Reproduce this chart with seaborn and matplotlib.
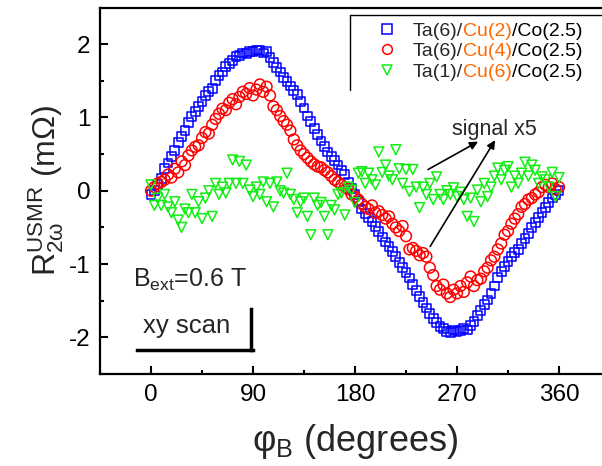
import numpy as np
import pandas as pd
import matplotlib
matplotlib.use("Agg")
import matplotlib.pyplot as plt
import seaborn as sns
from matplotlib.lines import Line2D
from matplotlib.ticker import MultipleLocator

# ---------------- data ----------------
phi = np.arange(0, 361, 3)

r_cu2 = [-0.05, 0.00, 0.08, 0.17, 0.30, 0.38, 0.47, 0.55, 0.66, 0.74,
         0.82, 0.93, 1.01, 1.08, 1.15, 1.22, 1.30, 1.35, 1.40, 1.50,
         1.57, 1.62, 1.70, 1.74, 1.78, 1.83, 1.85, 1.88, 1.87, 1.90,
         1.90, 1.92, 1.91, 1.88, 1.90, 1.82, 1.75, 1.68, 1.62, 1.55,
         1.49, 1.43, 1.37, 1.31, 1.22, 1.13, 1.02, 0.94, 0.85, 0.77,
         0.68, 0.60, 0.53, 0.47, 0.41, 0.35, 0.28, 0.22, 0.12, 0.03,
         -0.05, -0.15, -0.25, -0.31, -0.36, -0.42, -0.49, -0.56, -0.63, -0.70,
         -0.76, -0.83, -0.90, -0.98, -1.05, -1.12, -1.19, -1.28, -1.36, -1.44,
         -1.52, -1.60, -1.67, -1.74, -1.80, -1.85, -1.88, -1.92, -1.93, -1.90,
         -1.92, -1.91, -1.88, -1.90, -1.84, -1.78, -1.70, -1.63, -1.55, -1.49,
         -1.40, -1.30, -1.18, -1.10, -1.03, -0.96, -0.90, -0.84, -0.80, -0.72,
         -0.65, -0.58, -0.50, -0.43, -0.37, -0.30, -0.23, -0.16, -0.10, -0.05,
         0.00]

r_cu4 = [0.00, 0.05, 0.10, 0.12, 0.15, 0.22, 0.18, 0.30, 0.25, 0.40,
         0.35, 0.48, 0.55, 0.60, 0.62, 0.72, 0.80, 0.78, 0.90, 0.98,
         1.05, 1.12, 1.10, 1.20, 1.25, 1.18, 1.28, 1.35, 1.32, 1.40,
         1.30, 1.38, 1.45, 1.35, 1.42, 1.30, 1.15, 1.10, 1.02, 0.95,
         0.90, 0.82, 0.70, 0.62, 0.55, 0.50, 0.45, 0.40, 0.36, 0.33,
         0.32, 0.28, 0.25, 0.20, 0.15, 0.12, 0.08, 0.05, 0.02, -0.05,
         -0.08, -0.12, -0.18, -0.22, -0.25, -0.20, -0.30, -0.28, -0.33, -0.38,
         -0.35, -0.45, -0.50, -0.55, -0.48, -0.62, -0.80, -0.78, -0.82, -0.88,
         -0.85, -0.90, -1.05, -1.15, -1.30, -1.35, -1.28, -1.40, -1.45, -1.35,
         -1.40, -1.30, -1.38, -1.25, -1.17, -1.30, -1.22, -1.20, -1.10, -1.05,
         -0.95, -0.90, -0.80, -0.72, -0.60, -0.55, -0.45, -0.38, -0.32, -0.22,
         -0.18, -0.12, -0.10, -0.05, -0.02, 0.05, 0.08, 0.05, 0.10, 0.02,
         0.05]

r_cu6 = [0.08, -0.20, -0.10, -0.20, -0.05, -0.22, -0.30, -0.15, -0.40, -0.50,
         -0.25, -0.30, -0.05, -0.30, -0.15, -0.38, -0.10, 0.00, -0.35, 0.10,
         -0.05, 0.05, -0.03, 0.10, 0.42, 0.10, 0.40, 0.10, 0.35, 0.01,
         -0.08, 0.05, -0.05, 0.12, -0.15, 0.10, -0.22, 0.12, 0.00, -0.03,
         0.24, -0.05, -0.12, -0.30, -0.15, -0.10, -0.35, -0.60, -0.10, -0.20,
         -0.16, -0.35, -0.60, -0.20, -0.26, -0.05, -0.03, -0.33, 0.05, 0.01,
         -0.16, 0.24, 0.26, 0.10, 0.24, 0.15, 0.08, 0.53, 0.25, 0.35,
         0.20, 0.15, 0.56, 0.30, 0.10, 0.29, -0.01, 0.29, 0.05, -0.23,
         0.05, -0.05, 0.10, -0.12, 0.19, -0.05, -0.12, 0.00, -0.05, 0.04,
         -0.08, -0.02, -0.12, -0.35, -0.10, -0.42, 0.01, -0.15, 0.10, -0.08,
         0.05, 0.20, 0.31, 0.15, 0.28, 0.33, 0.05, 0.20, 0.10, 0.24,
         0.39, 0.20, 0.35, 0.28, 0.10, 0.19, 0.15, 0.05, 0.25, -0.08,
         0.18]

series_labels = [("Ta(6)/", "Cu(2)", "/Co(2.5)"),
                 ("Ta(6)/", "Cu(4)", "/Co(2.5)"),
                 ("Ta(1)/", "Cu(6)", "/Co(2.5)")]
x_ticks = [0, 90, 180, 270, 360]
y_ticks = [-2, -1, 0, 1, 2]

# ---------------- style ----------------
sns.set_theme(style="white")
plt.rcParams["font.family"] = ["Liberation Sans", "DejaVu Sans"]
plt.rcParams["mathtext.default"] = "regular"
plt.rcParams["mathtext.fontset"] = "custom"
plt.rcParams["mathtext.rm"] = "Liberation Sans"
plt.rcParams["mathtext.it"] = "Liberation Sans"
plt.rcParams["axes.unicode_minus"] = False

W, H = 602, 466
fig = plt.figure(figsize=(W / 100, H / 100), dpi=100)
ax = fig.add_axes([100 / W, (H - 374) / H, 510 / W, 366.5 / H])

df = pd.DataFrame({"phi": np.concatenate([phi, phi, phi]),
                   "R": np.concatenate([r_cu2, r_cu4, r_cu6]),
                   "s": ["a"] * len(phi) + ["b"] * len(phi) + ["c"] * len(phi)})

specs = [("a", "s", "#0000FF", 40), ("b", "o", "#FF0000", 60), ("c", "v", "#11EE11", 50)]
for key, mk, col, sz in specs:
    sub = df[df["s"] == key]
    sns.scatterplot(data=sub, x="phi", y="R", marker=mk, s=sz, ax=ax,
                    facecolors="none", edgecolor=col, linewidth=1.1, legend=False)

ax.set_xlim(-45, 405)
ax.set_ylim(-2.5, 2.5)
ax.set_xticks(x_ticks)
ax.set_yticks(y_ticks)
ax.xaxis.set_minor_locator(MultipleLocator(45))
ax.yaxis.set_minor_locator(MultipleLocator(0.5))
ax.tick_params(axis="both", which="both", direction="in", width=1.5,
               colors="black", labelsize=17.5, top=False, right=False,
               bottom=True, left=True)
ax.tick_params(axis="both", which="major", length=6)
ax.tick_params(axis="both", which="minor", length=3)
ax.tick_params(axis="x", pad=7)
ax.tick_params(axis="y", pad=7)
for sp in ax.spines.values():
    sp.set_linewidth(1.6)
    sp.set_color("black")

ax.set_xlabel("φ$_B$ (degrees)", fontsize=26, labelpad=12)
ax.set_ylabel("$R_{2ω}^{USMR}$ (mΩ)", fontsize=23, labelpad=2)

# ---------------- legend ----------------
FS = 14
handles = [Line2D([], [], linestyle="none", marker=mk, markersize=7,
                  markerfacecolor="none", markeredgecolor=col, markeredgewidth=1.1)
           for _, mk, col, _ in specs]
leg = ax.legend(handles=handles, labels=[l[0] for l in series_labels],
                loc="upper left", bbox_to_anchor=(377 / W, 1 - 22 / H),
                bbox_transform=fig.transFigure, frameon=False, fontsize=FS,
                handlelength=1.0, handletextpad=0.85, labelspacing=0.15,
                borderpad=0.0, borderaxespad=0.0)
fig.canvas.draw()
for t, (p1, p2, p3) in zip(leg.get_texts(), series_labels):
    a2 = ax.annotate(p2, xy=(1, 0), xycoords=t, ha="left", va="bottom",
                     fontsize=FS, color="#FF6A00")
    ax.annotate(p3, xy=(1, 0), xycoords=a2, ha="left", va="bottom",
                fontsize=FS, color="black")

# legend box (left and top edges)
tf = fig.transFigure
fig.add_artist(Line2D([350 / W, 350 / W], [1 - 15 / H, 1 - 90 / H], color="black", lw=1.0, transform=tf))
fig.add_artist(Line2D([350 / W, 1.0], [1 - 15 / H, 1 - 15 / H], color="black", lw=1.0, transform=tf))

# ---------------- annotations ----------------
ax.text(-15.6, -1.31, "B$_{ext}$=0.6 T", fontsize=18, ha="left", va="baseline")
ax.text(-6.8, -1.94, "xy scan", fontsize=18.5, ha="left", va="baseline")
ax.plot([-12.1, 90.2], [-2.17, -2.17], color="black", lw=2.5, solid_capstyle="projecting")
ax.plot([88.5, 88.5], [-1.62, -2.17], color="black", lw=2.5, solid_capstyle="projecting")

ax.text(302.7, 0.76, "signal x5", fontsize=15.5, ha="center", va="baseline")
arrow = dict(arrowstyle="-|>", lw=1.2, color="black", mutation_scale=12, shrinkA=0, shrinkB=0)
ax.annotate("", xy=(288.6, 0.67), xytext=(244.5, 0.29), arrowprops=arrow)
ax.annotate("", xy=(303.6, 0.69), xytext=(246.3, -0.76), arrowprops=arrow)

fig.savefig("out.png", dpi=100)
